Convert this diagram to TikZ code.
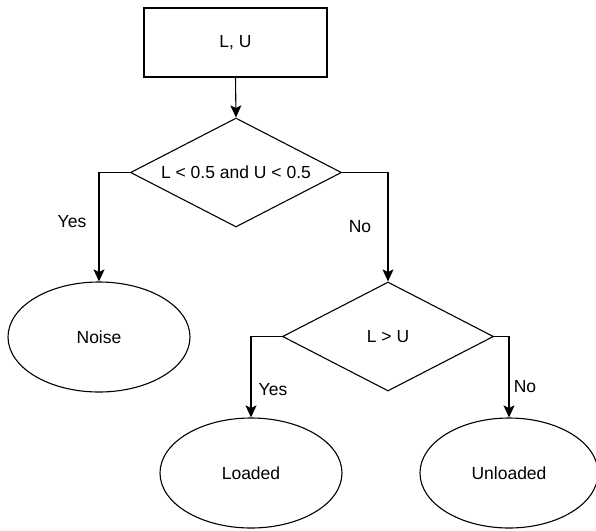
\documentclass[tikz,border=0pt]{standalone}
\usepackage{fontspec}
\setmainfont{Liberation Sans}
\usetikzlibrary{shapes.geometric,arrows.meta}
\begin{document}
\begin{tikzpicture}[x=1pt,y=-1pt,
  every node/.style={font=\fontsize{17.5}{20}\selectfont},
  boxnode/.style={draw,line width=1.1pt,minimum width=183pt,minimum height=69pt,inner sep=0pt},
  decnode/.style={draw,diamond,aspect=2,line width=1.1pt,minimum width=211pt,minimum height=109pt,inner sep=0pt},
  endnode/.style={draw,ellipse,line width=1.1pt,minimum width=182pt,minimum height=110pt,inner sep=0pt},
  arr/.style={line width=1.1pt,-{Stealth[length=12pt,width=11pt,inset=2.5pt]}},
  lbl/.style={inner sep=0pt}]
\useasboundingbox (0,0) rectangle (596,530);
\node[boxnode] (inp) at (235.5,42.5) {L, U};
\node[decnode] (d1) at (236,172.5) {L < 0.5 and U < 0.5};
\node[endnode] (noise) at (99,337) {Noise};
\node[decnode] (d2) at (388,336.5) {L > U};
\node[endnode] (loaded) at (251,473) {Loaded};
\node[endnode,minimum width=178pt] (unloaded) at (509,473) {Unloaded};
\draw[arr] (inp.south) -- (d1.north);
\draw[arr] (d1.west) -| (noise.north);
\draw[arr] (d1.east) -| (d2.north);
\draw[arr] (d2.west) -| (loaded.north);
\draw[arr] (d2.east) -| (unloaded.north);
\node[lbl] (y1) at (72,222) {Yes};
\node[lbl] (n1) at (360,227) {No};
\node[lbl] (y2) at (273,390) {Yes};
\node[lbl] (n2) at (525,387) {No};
\end{tikzpicture}
\end{document}
